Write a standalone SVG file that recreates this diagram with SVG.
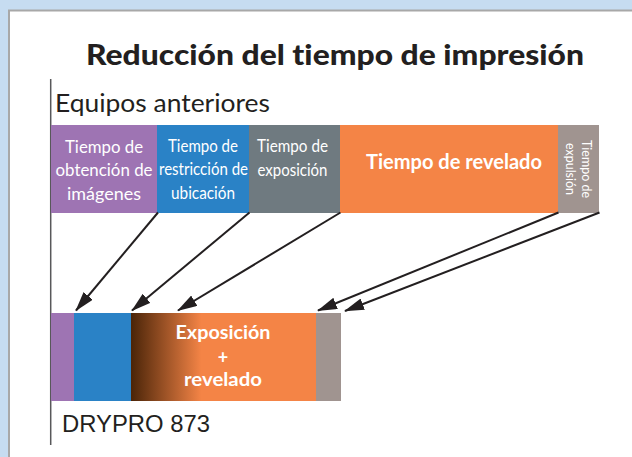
<svg xmlns="http://www.w3.org/2000/svg" width="632" height="457" viewBox="0 0 632 457">
<style>
text{font-variant-ligatures:none;}
.w{fill:#fff;font-family:Lato,"Noto Sans",sans-serif;}
.r{font-size:17.5px;}
.b{font-weight:bold;}
.c{text-anchor:middle;}
.ln{stroke:#231f20;stroke-width:2;fill:none;marker-end:url(#ah);}
</style>
<defs>
<marker id="ah" viewBox="0 0 20 12" refX="19" refY="6" markerWidth="20" markerHeight="12" markerUnits="userSpaceOnUse" orient="auto">
<path d="M0,0 L20,6 L0,12 z" fill="#231f20"/>
</marker>
<linearGradient id="g" x1="131" y1="0" x2="316" y2="0" gradientUnits="userSpaceOnUse">
<stop offset="0" stop-color="#4a2408"/>
<stop offset="0.38" stop-color="#f48446"/>
<stop offset="1" stop-color="#f48446"/>
</linearGradient>
</defs>
<rect x="0" y="0" width="632" height="457" fill="#c6dcf1"/>
<rect x="9" y="10.5" width="640" height="460" fill="#fff" stroke="#a8a8a8" stroke-width="2"/>
<text x="335" y="64.5" text-anchor="middle" font-family="Lato,'Noto Sans',sans-serif" font-weight="900" font-size="29" fill="#231f20" textLength="498" lengthAdjust="spacingAndGlyphs">Reducción del tiempo de impresión</text>
<line x1="50.7" y1="79" x2="50.7" y2="445" stroke="#58585a" stroke-width="1.5"/>
<text x="55" y="111.5" font-family="Lato,'Noto Sans',sans-serif" font-size="25.5" fill="#231f20" textLength="215" lengthAdjust="spacingAndGlyphs">Equipos anteriores</text>

<g id="top-imagenes">
<rect x="51" y="125" width="106" height="88" fill="#9e74b3"/>
<text class="w r c" x="104" y="153" textLength="78" lengthAdjust="spacingAndGlyphs">Tiempo de</text>
<text class="w r c" x="104" y="176" textLength="97" lengthAdjust="spacingAndGlyphs">obtención de</text>
<text class="w r c" x="104" y="200" textLength="74" lengthAdjust="spacingAndGlyphs">imágenes</text>
</g>
<g id="top-ubicacion">
<rect x="157" y="125" width="92" height="88" fill="#2a82c6"/>
<text class="w r c" x="203" y="152" textLength="70" lengthAdjust="spacingAndGlyphs">Tiempo de</text>
<text class="w r c" x="203.5" y="175" textLength="89" lengthAdjust="spacingAndGlyphs">restricción de</text>
<text class="w r c" x="203" y="199" textLength="64" lengthAdjust="spacingAndGlyphs">ubicación</text>
</g>
<g id="top-exposicion">
<rect x="249" y="125" width="91" height="88" fill="#6f7a80"/>
<text class="w r c" x="292.5" y="152" textLength="71" lengthAdjust="spacingAndGlyphs">Tiempo de</text>
<text class="w r c" x="292.5" y="176" textLength="70" lengthAdjust="spacingAndGlyphs">exposición</text>
</g>
<g id="top-revelado">
<rect x="340" y="125" width="218" height="88" fill="#f48446"/>
<text class="w b c" x="454" y="168.5" font-size="20" font-weight="900" textLength="176" lengthAdjust="spacingAndGlyphs">Tiempo de revelado</text>
</g>
<g id="top-expulsion">
<rect x="558" y="125" width="41" height="88" fill="#a09490"/>
<text class="w c" transform="translate(582,169) rotate(90)" font-size="12.5" textLength="58" lengthAdjust="spacingAndGlyphs">Tiempo de</text>
<text class="w c" transform="translate(566,169) rotate(90)" font-size="12.5" textLength="52" lengthAdjust="spacingAndGlyphs">expulsión</text>
</g>

<g id="connectors">
<line class="ln" x1="158" y1="212.5" x2="76" y2="310.5"/>
<line class="ln" x1="249.5" y1="212.5" x2="132" y2="310.5"/>
<line class="ln" x1="340.5" y1="212.5" x2="178" y2="310.5"/>
<line class="ln" x1="558.5" y1="212.5" x2="318" y2="310.5"/>
<line class="ln" x1="599.5" y1="212.5" x2="345" y2="311"/>
</g>

<g id="bottom-imagenes"><rect x="51" y="313" width="23" height="88" fill="#9e74b3"/></g>
<g id="bottom-ubicacion"><rect x="74" y="313" width="57" height="88" fill="#2a82c6"/></g>
<g id="bottom-exposicion-revelado">
<rect x="131" y="313" width="185" height="88" fill="url(#g)"/>
<text class="w b c" x="223" y="339" font-size="18" font-weight="900" textLength="95" lengthAdjust="spacingAndGlyphs">Exposición</text>
<text class="w b c" x="223" y="364" font-size="18" font-weight="900">+</text>
<text class="w b c" x="223" y="386" font-size="18" font-weight="900" textLength="78" lengthAdjust="spacingAndGlyphs">revelado</text>
</g>
<g id="bottom-expulsion"><rect x="316" y="313" width="25" height="88" fill="#a09490"/></g>
<text x="62" y="431.5" font-family="'Liberation Sans',Arial,sans-serif" font-size="24" fill="#231f20" textLength="148" lengthAdjust="spacingAndGlyphs">DRYPRO 873</text>
</svg>
